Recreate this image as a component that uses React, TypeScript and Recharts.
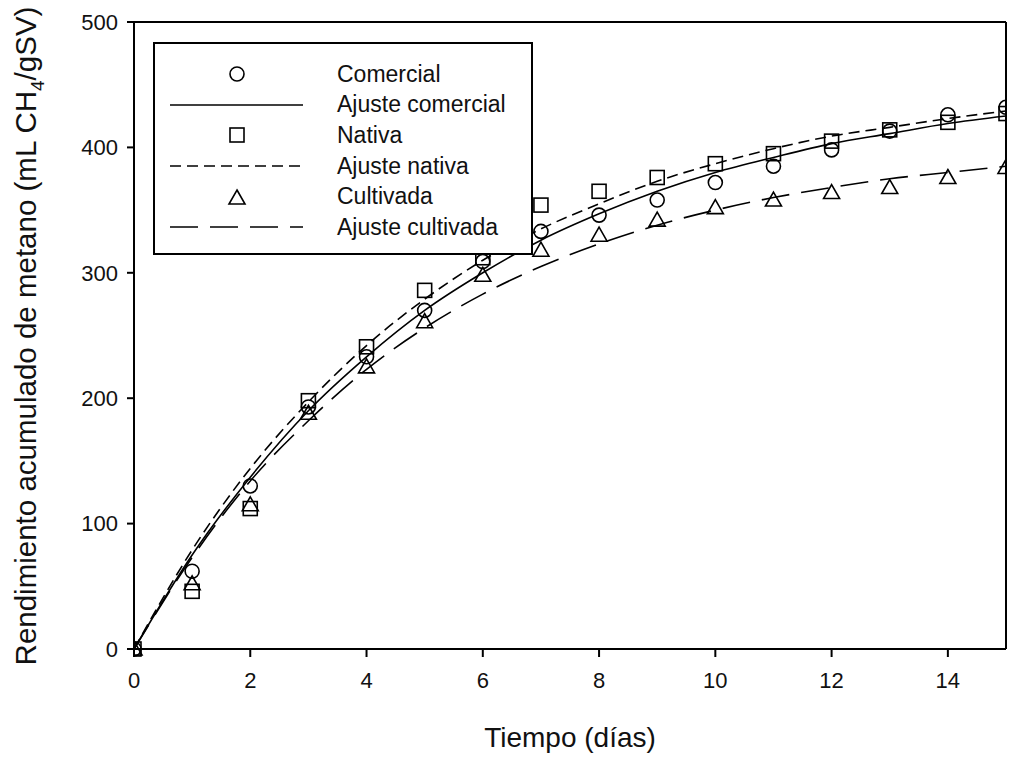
import React from "react";
import {
  ComposedChart,
  Line,
  Scatter,
  XAxis,
  YAxis,
  ReferenceLine,
} from "recharts";

const days = [0, 1, 2, 3, 4, 5, 6, 7, 8, 9, 10, 11, 12, 13, 14, 15];
const comercial = [0, 62, 130, 193, 233, 270, 309, 333, 346, 358, 372, 385, 398, 413, 426, 432];
const nativa = [0, 46, 112, 198, 241, 286, 312, 354, 365, 376, 387, 395, 405, 414, 420, 427];
const cultivada = [0, 52, 115, 188, 225, 261, 298, 318, 330, 342, 352, 358, 364, 368, 376, 384];
const ajusteComercial = [0, 75, 137, 190, 233, 270, 300, 326, 347, 365, 380, 392, 403, 411, 419, 425];
const ajusteNativa = [0, 79, 144, 197, 242, 279, 310, 335, 355, 373, 387, 399, 409, 416, 423, 429];
const ajusteCultivada = [0, 73, 134, 182, 223, 256, 283, 305, 323, 338, 350, 360, 368, 375, 380, 385];

const xTicks = [0, 2, 4, 6, 8, 10, 12, 14];
const yTicks = [0, 100, 200, 300, 400, 500];

const FONT = "'Liberation Sans', Arial, sans-serif";
const SHORT_DASH = "11 6";
const LONG_DASH = "28 12";

const data = days.map((t, i) => ({
  t,
  comercial: comercial[i],
  nativa: nativa[i],
  cultivada: cultivada[i],
  ajusteComercial: ajusteComercial[i],
  ajusteNativa: ajusteNativa[i],
  ajusteCultivada: ajusteCultivada[i],
}));

const CircleMark = (props: any) => (
  <circle cx={props.cx} cy={props.cy} r={7} fill="none" stroke="#000" strokeWidth={1.6} />
);
const SquareMark = (props: any) => (
  <rect x={props.cx - 7} y={props.cy - 7} width={14} height={14} fill="none" stroke="#000" strokeWidth={1.6} />
);
const TriangleMark = (props: any) => (
  <polygon
    points={`${props.cx},${props.cy - 8} ${props.cx + 8},${props.cy + 6} ${props.cx - 8},${props.cy + 6}`}
    fill="none"
    stroke="#000"
    strokeWidth={1.6}
  />
);

const legendRows = [
  { label: "Comercial", kind: "circle" },
  { label: "Ajuste comercial", kind: "solid" },
  { label: "Nativa", kind: "square" },
  { label: "Ajuste nativa", kind: "short" },
  { label: "Cultivada", kind: "triangle" },
  { label: "Ajuste cultivada", kind: "long" },
];

const LegendIcon = ({ kind }: { kind: string }) => (
  <svg width={150} height={30} style={{ display: "block" }}>
    {kind === "circle" && <CircleMark cx={67} cy={15} />}
    {kind === "square" && <SquareMark cx={67} cy={15} />}
    {kind === "triangle" && <TriangleMark cx={67} cy={16} />}
    {kind === "solid" && <line x1={0} x2={133} y1={15} y2={15} stroke="#000" strokeWidth={1.6} />}
    {kind === "short" && (
      <line x1={0} x2={133} y1={15} y2={15} stroke="#000" strokeWidth={1.6} strokeDasharray={SHORT_DASH} />
    )}
    {kind === "long" && (
      <line x1={0} x2={133} y1={15} y2={15} stroke="#000" strokeWidth={1.6} strokeDasharray={LONG_DASH} />
    )}
  </svg>
);

const LegendBox = () => (
  <div
    style={{
      position: "absolute",
      left: 153,
      top: 42,
      width: 380,
      height: 213,
      border: "2px solid #000",
      background: "#fff",
      boxSizing: "border-box",
      paddingTop: 15,
      fontFamily: FONT,
      fontSize: 23,
      color: "#111",
    }}
  >
    {legendRows.map((r) => (
      <div key={r.label} style={{ display: "flex", alignItems: "center", height: 30.6 }}>
        <div style={{ marginLeft: 15, width: 167 }}>
          <LegendIcon kind={r.kind} />
        </div>
        <span style={{ whiteSpace: "nowrap" }}>{r.label}</span>
      </div>
    ))}
  </div>
);

const YTitle = () => (
  <text
    transform="translate(36, 336) rotate(-90)"
    textAnchor="middle"
    fontFamily={FONT}
    fontSize={29.5}
    fill="#111"
  >
    Rendimiento acumulado de metano (mL CH
    <tspan fontSize={19} dy={8}>4</tspan>
    <tspan dy={-8}>/gSV)</tspan>
  </text>
);

export default function App() {
  return (
    <div style={{ position: "absolute", left: 0, top: 0, width: 1010, height: 757, background: "#fff" }}>
      <ComposedChart
        width={1010}
        height={757}
        data={data}
        margin={{ top: 22, right: 4, bottom: 0, left: 0 }}
      >
        <XAxis
          dataKey="t"
          type="number"
          domain={[0, 15]}
          ticks={xTicks}
          allowDataOverflow
          height={108}
          tickSize={8}
          stroke="#000"
          strokeWidth={2}
          tick={{ fill: "#111", fontSize: 22, fontFamily: FONT }}
          tickMargin={15}
          label={{
            value: "Tiempo (días)",
            position: "insideBottom",
            offset: 10,
            fill: "#111",
            fontSize: 28,
            fontFamily: FONT,
          }}
        />
        <YAxis
          type="number"
          domain={[0, 500]}
          ticks={yTicks}
          width={134}
          tickSize={7}
          stroke="#000"
          strokeWidth={2}
          tick={{ fill: "#111", fontSize: 22, fontFamily: FONT }}
          tickMargin={9}
          label={<YTitle />}
        />
        <ReferenceLine y={500} stroke="#000" strokeWidth={2} ifOverflow="visible" />
        <ReferenceLine x={15} stroke="#000" strokeWidth={2} ifOverflow="visible" />
        <Line dataKey="ajusteComercial" type="monotone" stroke="#000" strokeWidth={1.6} dot={false} isAnimationActive={false} />
        <Line dataKey="ajusteNativa" type="monotone" stroke="#000" strokeWidth={1.6} strokeDasharray={SHORT_DASH} dot={false} isAnimationActive={false} />
        <Line dataKey="ajusteCultivada" type="monotone" stroke="#000" strokeWidth={1.6} strokeDasharray={LONG_DASH} dot={false} isAnimationActive={false} />
        <Scatter dataKey="comercial" shape={CircleMark} isAnimationActive={false} />
        <Scatter dataKey="nativa" shape={SquareMark} isAnimationActive={false} />
        <Scatter dataKey="cultivada" shape={TriangleMark} isAnimationActive={false} />
      </ComposedChart>
      <LegendBox />
    </div>
  );
}
